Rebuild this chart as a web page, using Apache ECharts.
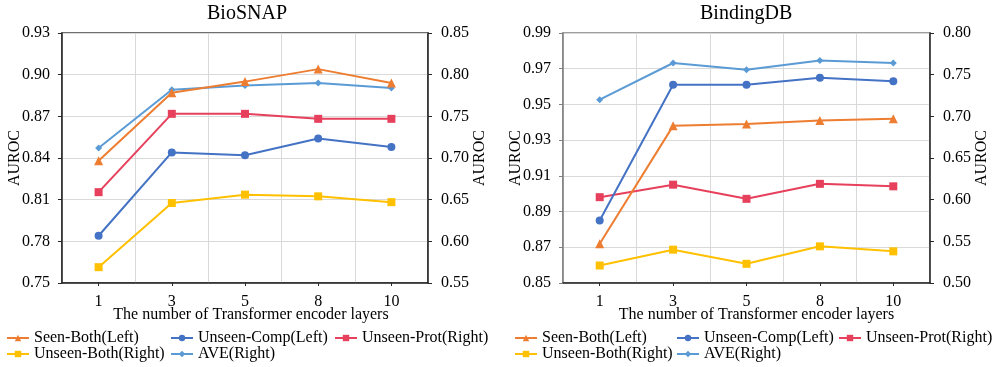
<!DOCTYPE html>
<html>
<head>
<meta charset="utf-8">
<script src="https://cdn.jsdelivr.net/npm/echarts@6/dist/echarts.min.js"></script>
<style>
html,body{margin:0;padding:0;background:#fff;}
#chart{width:996px;height:367px;}
</style>
</head>
<body>
<div id="chart"></div>
<script>
// ---- data ----
const categories = ['1', '3', '5', '8', '10'];
const seriesNames = ['Seen-Both(Left)', 'Unseen-Comp(Left)', 'Unseen-Prot(Right)', 'Unseen-Both(Right)', 'AVE(Right)'];

// BioSNAP
const bioSeenBoth   = [0.838, 0.887, 0.895, 0.904, 0.894];
const bioUnseenComp = [0.784, 0.844, 0.842, 0.854, 0.848];
const bioUnseenProt = [0.659, 0.753, 0.753, 0.747, 0.747];
const bioUnseenBoth = [0.569, 0.646, 0.656, 0.654, 0.647];
const bioAve        = [0.712, 0.782, 0.787, 0.790, 0.784];

// BindingDB
const bdbSeenBoth   = [0.872, 0.938, 0.939, 0.941, 0.942];
const bdbUnseenComp = [0.885, 0.961, 0.961, 0.965, 0.963];
const bdbUnseenProt = [0.603, 0.618, 0.601, 0.619, 0.616];
const bdbUnseenBoth = [0.521, 0.540, 0.523, 0.544, 0.538];
const bdbAve        = [0.720, 0.764, 0.756, 0.767, 0.764];

// axis ranges / tick labels
const bioLeftTicks  = [0.75, 0.78, 0.81, 0.84, 0.87, 0.90, 0.93];
const bioRightTicks = [0.55, 0.60, 0.65, 0.70, 0.75, 0.80, 0.85];
const bdbLeftTicks  = [0.85, 0.87, 0.89, 0.91, 0.93, 0.95, 0.97, 0.99];
const bdbRightTicks = [0.50, 0.55, 0.60, 0.65, 0.70, 0.75, 0.80];

// BindingDB left axis starts at 0.85 which is not a multiple of 0.02,
// so that axis is drawn relative to its base value.
const bdbLeftBase = bdbLeftTicks[0];
const rel = arr => arr.map(v => +(v - bdbLeftBase).toFixed(4));

const FONT = '"Liberation Serif", "Times New Roman", serif';
const colors = ['#ED7D31', '#4472C4', '#E6405C', '#FFC000', '#5B9BD5'];
const symbols = ['triangle', 'circle', 'rect', 'rect', 'diamond'];
const symbolSizes = [9, 8, 8, 8, 7];

function yAxis(gridIndex, pos, ticks, opts) {
  return {
    type: 'value', gridIndex: gridIndex, position: pos,
    min: ticks[0], max: ticks[ticks.length - 1],
    interval: +(ticks[1] - ticks[0]).toFixed(4),
    axisLine: {show: true, lineStyle: {color: opts.lineColor, width: 1.5}},
    axisTick: {show: true, inside: false, length: 4, lineStyle: {color: opts.lineColor, width: 1}},
    axisLabel: {
      margin: pos === 'left' ? 12 : 13, fontSize: 16, fontFamily: FONT, color: '#000',
      formatter: v => (v + (opts.base || 0)).toFixed(2)
    },
    splitLine: {show: pos === 'left', lineStyle: {color: '#D9D9D9', width: 1}},
    name: 'AUROC', nameLocation: 'middle', nameGap: pos === 'left' ? 39 : 44,
    nameMoveOverlap: false,
    nameTextStyle: {fontSize: 16, fontFamily: FONT, color: '#000'}
  };
}

function xAxis(gridIndex, shift) {
  return {
    type: 'category', gridIndex: gridIndex, data: categories, boundaryGap: true,
    axisLine: {show: true, lineStyle: {color: '#262626', width: 1.5}},
    axisTick: {show: true, alignWithLabel: true, length: 3, lineStyle: {color: '#262626'}},
    axisLabel: {margin: 11, fontSize: 16, fontFamily: FONT, color: '#000'},
    splitLine: {show: true, lineStyle: {color: '#D9D9D9', width: 1}},
    name: 'The number of Transformer encoder layers', nameLocation: 'middle', nameGap: 24,
    nameMoveOverlap: false,
    nameTextStyle: {fontSize: 16, fontFamily: FONT, color: '#000', padding: [0, 0, 0, shift]}
  };
}

function mkSeries(idx, data, xi, yi) {
  return {
    type: 'line', name: seriesNames[idx], data: data,
    xAxisIndex: xi, yAxisIndex: yi,
    symbol: symbols[idx], symbolSize: symbolSizes[idx],
    lineStyle: {color: colors[idx], width: 2},
    itemStyle: {color: colors[idx]},
    showSymbol: true, animation: false
  };
}

function legend(left, textWidth) {
  return {
    left: left, top: 330, width: 495, padding: 0, itemGap: 0,
    itemWidth: 22, itemHeight: 8,
    data: seriesNames,
    textStyle: {fontSize: 16, fontFamily: FONT, color: '#000', width: textWidth, overflow: 'truncate', lineHeight: 16}
  };
}

const option = {
  animation: false,
  backgroundColor: '#fff',
  title: [
    {text: 'BioSNAP', left: 207, top: 4, padding: 0,
     textStyle: {fontSize: 20, fontFamily: FONT, fontWeight: 'normal', color: '#000'}},
    {text: 'BindingDB', left: 700, top: 4, padding: 0,
     textStyle: {fontSize: 20, fontFamily: FONT, fontWeight: 'normal', color: '#000'}}
  ],
  legend: [legend(6, 136), legend(514, 134)],
  grid: [
    {left: 62, top: 33, width: 366, height: 250, show: true, borderColor: '#404040', borderWidth: 1.5, backgroundColor: 'transparent', containLabel: false},
    {left: 563, top: 33, width: 367, height: 250, show: true, borderColor: '#808080', borderWidth: 1.5, backgroundColor: 'transparent', containLabel: false}
  ],
  xAxis: [xAxis(0, 12), xAxis(1, 20)],
  yAxis: [
    yAxis(0, 'left', bioLeftTicks, {lineColor: '#262626'}),
    yAxis(0, 'right', bioRightTicks, {lineColor: '#262626'}),
    yAxis(1, 'left', bdbLeftTicks.map(v => +(v - bdbLeftBase).toFixed(4)), {lineColor: '#808080', base: bdbLeftBase}),
    yAxis(1, 'right', bdbRightTicks, {lineColor: '#262626'})
  ],
  series: [
    mkSeries(4, bioAve, 0, 1),
    mkSeries(3, bioUnseenBoth, 0, 1),
    mkSeries(2, bioUnseenProt, 0, 1),
    mkSeries(1, bioUnseenComp, 0, 0),
    mkSeries(0, bioSeenBoth, 0, 0),
    mkSeries(4, bdbAve, 1, 3),
    mkSeries(3, bdbUnseenBoth, 1, 3),
    mkSeries(2, bdbUnseenProt, 1, 3),
    mkSeries(1, rel(bdbUnseenComp), 1, 2),
    mkSeries(0, rel(bdbSeenBoth), 1, 2)
  ]
};

const chart = echarts.init(document.getElementById('chart'), null, {renderer: 'canvas'});
chart.setOption(option);
</script>
</body>
</html>
